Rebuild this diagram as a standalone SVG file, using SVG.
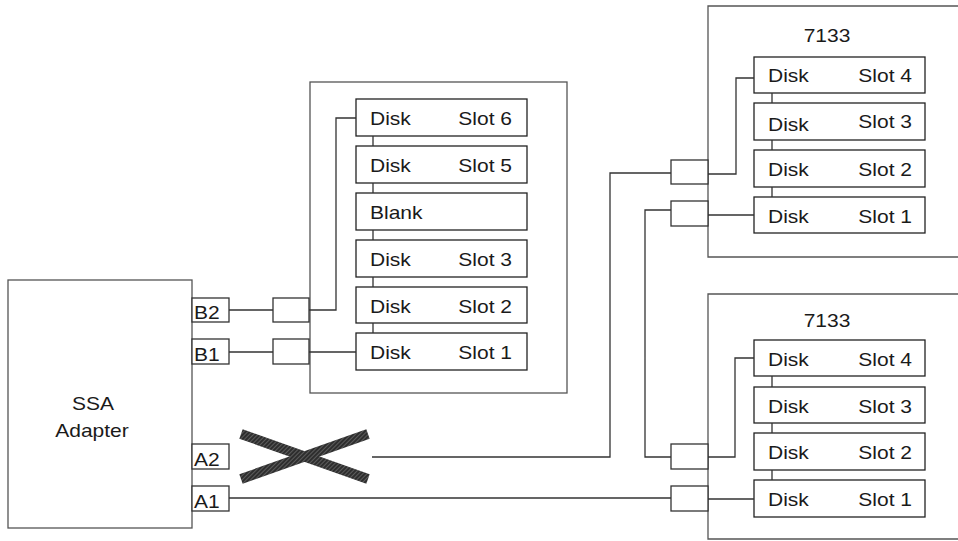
<svg xmlns="http://www.w3.org/2000/svg" width="958" height="541" viewBox="0 0 958 541">
<defs>
<pattern id="hatch" width="3" height="3" patternUnits="userSpaceOnUse" patternTransform="rotate(45)">
<rect width="3" height="3" fill="#2e2e2e"/>
<line x1="0" y1="0" x2="0" y2="3" stroke="#8a8a8a" stroke-width="1"/>
</pattern>
</defs>
<style>
.encl{fill:none;stroke:#555;stroke-width:1.3}
.box{fill:#fff;stroke:#222;stroke-width:1.3}
.port{fill:#fff;stroke:#333;stroke-width:1.3}
.ln{fill:none;stroke:#333;stroke-width:1.3}
.t{font-family:"Liberation Sans",Arial,Helvetica,sans-serif;font-size:17.5px;fill:#1a1a1a}
.e{text-anchor:end}
.m{text-anchor:middle}
</style>
<rect width="958" height="541" fill="#fff"/>

<g id="adapter">
<rect class="encl" x="8" y="280" width="184" height="248"/>
<text class="t m" transform="translate(93,410) scale(1.2,1)">SSA</text>
<text class="t m" transform="translate(92,437) scale(1.2,1)">Adapter</text>
</g>
<g id="port-B2"><rect class="port" x="192" y="298" width="37" height="24"/><text class="t" transform="translate(194,319) scale(1.2,1)">B2</text></g>
<g id="port-B1"><rect class="port" x="192" y="339" width="37" height="25"/><text class="t" transform="translate(194,361) scale(1.2,1)">B1</text></g>
<g id="port-A2"><rect class="port" x="192" y="444" width="37" height="25"/><text class="t" transform="translate(194,466) scale(1.2,1)">A2</text></g>
<g id="port-A1"><rect class="port" x="192" y="486" width="37" height="25"/><text class="t" transform="translate(194,508) scale(1.2,1)">A1</text></g>

<g id="enclosure-middle">
<rect class="encl" x="310" y="82" width="257" height="311"/>
<rect class="port" x="273" y="298" width="36" height="24"/>
<rect class="port" x="273" y="339" width="36" height="25"/>
<g id="mid-slot6"><rect class="box" x="356" y="99" width="171" height="37"/><text class="t" transform="translate(370,125) scale(1.2,1)">Disk</text><text class="t e" transform="translate(512,125) scale(1.2,1)">Slot 6</text></g>
<g id="mid-slot5"><rect class="box" x="356" y="146" width="171" height="37"/><text class="t" transform="translate(370,172) scale(1.2,1)">Disk</text><text class="t e" transform="translate(512,172) scale(1.2,1)">Slot 5</text></g>
<g id="mid-blank"><rect class="box" x="356" y="193" width="171" height="37"/><text class="t" transform="translate(370,219) scale(1.2,1)">Blank</text></g>
<g id="mid-slot3"><rect class="box" x="356" y="240" width="171" height="37"/><text class="t" transform="translate(370,266) scale(1.2,1)">Disk</text><text class="t e" transform="translate(512,266) scale(1.2,1)">Slot 3</text></g>
<g id="mid-slot2"><rect class="box" x="356" y="287" width="171" height="36"/><text class="t" transform="translate(370,313) scale(1.2,1)">Disk</text><text class="t e" transform="translate(512,313) scale(1.2,1)">Slot 2</text></g>
<g id="mid-slot1"><rect class="box" x="356" y="333" width="171" height="37"/><text class="t" transform="translate(370,359) scale(1.2,1)">Disk</text><text class="t e" transform="translate(512,359) scale(1.2,1)">Slot 1</text></g>
</g>

<g id="enclosure-top">
<path class="encl" d="M960,6 H708 V257 H960"/>
<text class="t m" transform="translate(827,42) scale(1.2,1)">7133</text>
<rect class="port" x="671" y="160" width="37" height="24"/>
<rect class="port" x="671" y="201" width="37" height="25"/>
<g id="top-slot4"><rect class="box" x="754" y="57" width="171" height="36"/><text class="t" transform="translate(768,82) scale(1.2,1)">Disk</text><text class="t e" transform="translate(912,82) scale(1.2,1)">Slot 4</text></g>
<g id="top-slot3"><rect class="box" x="754" y="103" width="171" height="37"/><text class="t" transform="translate(768,131) scale(1.2,1)">Disk</text><text class="t e" transform="translate(912,128) scale(1.2,1)">Slot 3</text></g>
<g id="top-slot2"><rect class="box" x="754" y="150" width="171" height="37"/><text class="t" transform="translate(768,176) scale(1.2,1)">Disk</text><text class="t e" transform="translate(912,176) scale(1.2,1)">Slot 2</text></g>
<g id="top-slot1"><rect class="box" x="754" y="197" width="171" height="36"/><text class="t" transform="translate(768,223) scale(1.2,1)">Disk</text><text class="t e" transform="translate(912,223) scale(1.2,1)">Slot 1</text></g>
</g>

<g id="enclosure-bottom">
<path class="encl" d="M960,294 H708 V539 H960"/>
<text class="t m" transform="translate(827,327) scale(1.2,1)">7133</text>
<rect class="port" x="671" y="444" width="37" height="25"/>
<rect class="port" x="671" y="486" width="37" height="25"/>
<g id="bot-slot4"><rect class="box" x="754" y="340" width="171" height="36"/><text class="t" transform="translate(768,366) scale(1.2,1)">Disk</text><text class="t e" transform="translate(912,366) scale(1.2,1)">Slot 4</text></g>
<g id="bot-slot3"><rect class="box" x="754" y="387" width="171" height="36"/><text class="t" transform="translate(768,413) scale(1.2,1)">Disk</text><text class="t e" transform="translate(912,413) scale(1.2,1)">Slot 3</text></g>
<g id="bot-slot2"><rect class="box" x="754" y="433" width="171" height="37"/><text class="t" transform="translate(768,459) scale(1.2,1)">Disk</text><text class="t e" transform="translate(912,459) scale(1.2,1)">Slot 2</text></g>
<g id="bot-slot1"><rect class="box" x="754" y="480" width="171" height="37"/><text class="t" transform="translate(768,506) scale(1.2,1)">Disk</text><text class="t e" transform="translate(912,506) scale(1.2,1)">Slot 1</text></g>
</g>

<g id="connectors">
<path class="ln" d="M373,136 V146 M373,183 V193 M373,230 V240 M373,277 V287 M373,323 V333"/>
<path class="ln" d="M772,93 V103 M772,140 V150 M772,187 V197"/>
<path class="ln" d="M772,376 V387 M772,423 V433 M772,470 V480"/>
<path class="ln" d="M229,310 H273 M309,310 H336 V118 H356"/>
<path class="ln" d="M229,352 H273 M309,352 H356"/>
<path class="ln" d="M372,457 H610 V173 H671 M708,174 H736 V78 H754"/>
<path class="ln" d="M671,210 H645 V457 H671 M708,215 H754 M708,457 H735 V358 H754"/>
<path class="ln" d="M229,498 H671 M708,499 H754"/>
<g id="broken-link">
<line x1="241" y1="434" x2="368" y2="479" stroke="url(#hatch)" stroke-width="10"/>
<line x1="241" y1="479" x2="368" y2="434" stroke="url(#hatch)" stroke-width="10"/>
</g>
</g>
</svg>
